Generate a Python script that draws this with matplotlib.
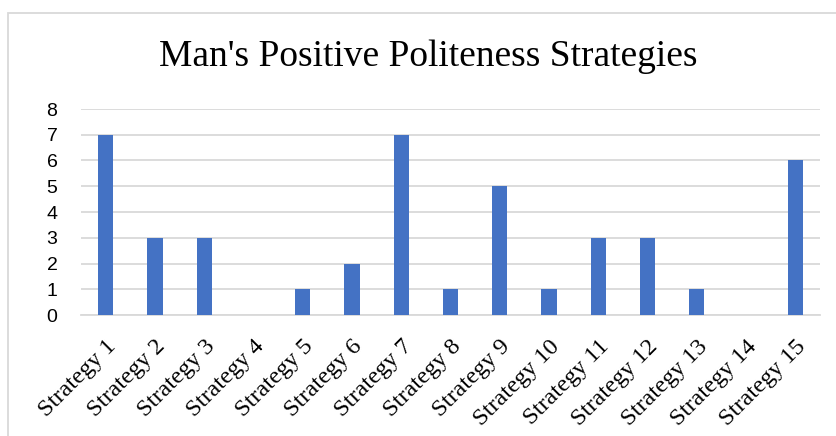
import matplotlib.pyplot as plt
from matplotlib.patches import Rectangle

# counts per strategy
strategies = ["Strategy %d" % i for i in range(1, 16)]
counts = [7, 3, 3, 0, 1, 2, 7, 1, 5, 1, 3, 3, 1, 0, 6]
y_ticks = list(range(0, 9))

fig = plt.figure(figsize=(8.36, 4.36), dpi=100)

# chart frame, runs off the right and bottom edge
fig.patches.append(Rectangle((8 / 836, -0.1), 1.0, 1 - 13 / 436 + 0.1,
                             transform=fig.transFigure, fill=False,
                             edgecolor="#d9d9d9", linewidth=1.3))

ax = fig.add_axes([81 / 836, 1 - 315 / 436, (820 - 81) / 836, (315 - 109) / 436])
x = range(len(strategies))
ax.bar(x, counts, width=0.31, color="#4472C4", zorder=3)

ax.set_xlim(-0.5, len(strategies) - 0.5)
ax.set_ylim(0, 8)
ax.set_yticks(y_ticks)
ax.set_yticklabels([str(t) for t in y_ticks], fontsize=14, family="Liberation Sans")
ax.grid(axis="y", color="#d9d9d9", linewidth=1.3, zorder=0)
for side in ["top", "right", "left"]:
    ax.spines[side].set_visible(False)
ax.spines["bottom"].set_color("#d9d9d9")
ax.spines["bottom"].set_linewidth(1.3)
ax.tick_params(axis="both", length=0)
ax.tick_params(axis="y", pad=17)
ax.tick_params(axis="x", pad=15)

ax.set_xticks(list(x))
ax.set_xticklabels(strategies, rotation=45, ha="right", rotation_mode="anchor",
                   fontsize=17.5, family="Liberation Serif")

fig.text(428 / 836, 1 - 57 / 436, "Man's Positive Politeness Strategies",
         ha="center", va="center", fontsize=27, family="Liberation Serif")

fig.savefig("out.png", dpi=100)
